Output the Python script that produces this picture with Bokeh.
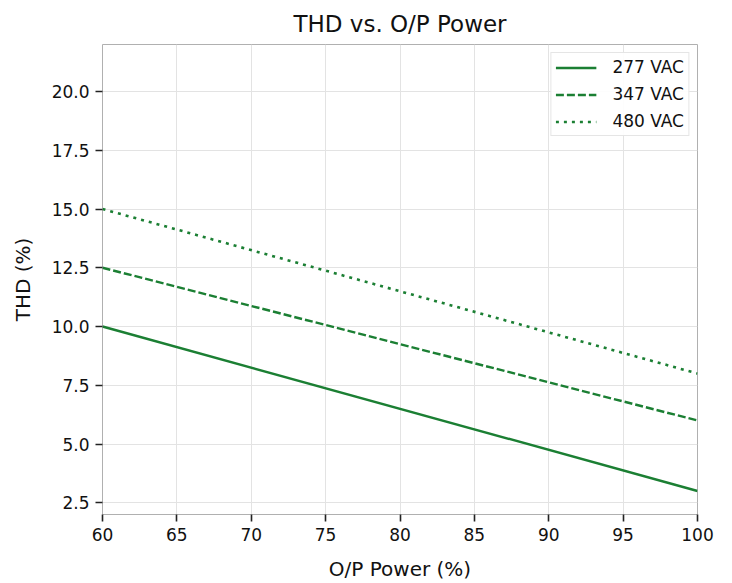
from bokeh.plotting import figure
from bokeh.embed import file_html
from bokeh.resources import INLINE
from bokeh.models import Legend, LegendItem, FixedTicker, Range1d

power = [60, 100]
thd_277 = [10.0, 3.0]
thd_347 = [12.5, 6.0]
thd_480 = [15.0, 8.0]
x_ticks = [60, 65, 70, 75, 80, 85, 90, 95, 100]
y_ticks = [2.5, 5.0, 7.5, 10.0, 12.5, 15.0, 17.5, 20.0]

GREEN = "#1b7f33"
FONT = "DejaVu Sans"

p = figure(width=724, height=583, output_backend="svg", toolbar_location=None,
           x_range=Range1d(60, 100), y_range=Range1d(2.0, 22.0),
           min_border_left=102, min_border_right=27, min_border_top=43, min_border_bottom=69,
           title="THD vs. O/P Power")
p.title.text_font = FONT
p.title.text_font_size = "23px"
p.title.text_font_style = "normal"
p.title.align = "center"
p.title.text_color = "#111111"
p.title.offset = 0
p.title.standoff = 16

p.outline_line_color = "#b0b0b0"
p.outline_line_width = 1

for ax in (p.xaxis[0], p.yaxis[0]):
    ax.axis_line_color = None
    ax.major_tick_line_color = "#222222"
    ax.major_tick_line_width = 1.6
    ax.major_tick_out = 7
    ax.major_tick_in = 0
    ax.minor_tick_line_color = None
    ax.major_label_text_font = FONT
    ax.major_label_text_font_size = "17px"
    ax.major_label_text_color = "#111111"
    ax.major_label_standoff = 6
    ax.axis_label_text_font = FONT
    ax.axis_label_text_font_size = "20px"
    ax.axis_label_text_font_style = "normal"
    ax.axis_label_text_color = "#111111"

p.xaxis.ticker = FixedTicker(ticks=x_ticks)
p.yaxis.ticker = FixedTicker(ticks=y_ticks)
p.xaxis.major_label_overrides = {t: str(t) for t in x_ticks}
p.yaxis.major_label_overrides = {t: f"{t:.1f}" for t in y_ticks}
p.xaxis.axis_label = "O/P Power (%)"
p.yaxis.axis_label = "THD (%)"
p.xaxis.axis_label_standoff = 13
p.yaxis.axis_label_standoff = 14

p.xgrid.grid_line_color = "#e3e3e3"
p.ygrid.grid_line_color = "#e3e3e3"
p.xgrid.grid_line_width = 1
p.ygrid.grid_line_width = 1

r1 = p.line(power, thd_277, line_color=GREEN, line_width=2.4)
r2 = p.line(power, thd_347, line_color=GREEN, line_width=2.4, line_dash="8 3")
r3 = p.line(power, thd_480, line_color=GREEN, line_width=2.6, line_dash="3 5")

legend = Legend(items=[LegendItem(label="277 VAC", renderers=[r1]),
                       LegendItem(label="347 VAC", renderers=[r2]),
                       LegendItem(label="480 VAC", renderers=[r3])],
                location="top_right")
legend.label_text_font = FONT
legend.label_text_font_size = "17px"
legend.label_text_color = "#111111"
legend.border_line_color = "#cccccc"
legend.border_line_width = 1
legend.background_fill_alpha = 0.9
legend.glyph_width = 41
legend.glyph_height = 17
legend.label_height = 17
legend.label_standoff = 16
legend.spacing = 7
legend.padding = 4
legend.margin = 8
p.add_layout(legend)

open("out.html", "w").write(file_html(p, INLINE))
